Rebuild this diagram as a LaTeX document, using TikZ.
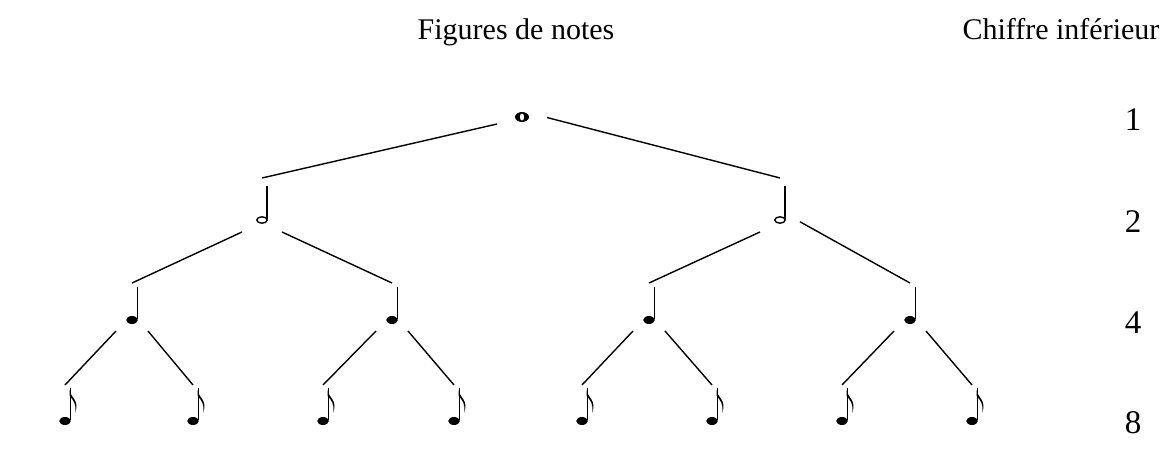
\documentclass[tikz,border=0pt]{standalone}
\usepackage{fontspec}
\setmainfont{Liberation Serif}

% note glyphs, drawn inside the note node (argument = depth of the box below the head)
\newcommand{\glyphwhole}[1]{%
  \coordinate (hd) at ([yshift=#1]path picture bounding box.south);
  \fill[even odd rule, shift={(hd)}] (0,0) ellipse [x radius=7pt, y radius=5pt]
    (0,0) ellipse [x radius=2.3pt, y radius=3.6pt];
}
\newcommand{\glyphhalf}[1]{%
  \coordinate (hd) at ([yshift=#1]path picture bounding box.south);
  \draw[line width=1.4pt, shift={(hd)}, rotate=25] (0,0) ellipse [x radius=5.2pt, y radius=3.2pt];
  \draw[line width=1.2pt] ([xshift=5pt, yshift=1pt]hd) -- ++(0,-33);
}
\newcommand{\glyphquarter}[1]{%
  \coordinate (hd) at ([yshift=#1]path picture bounding box.south);
  \fill[shift={(hd)}, rotate=25] (0,0) ellipse [x radius=5.8pt, y radius=4pt];
  \draw[line width=1.2pt] ([xshift=5.2pt, yshift=1pt]hd) -- ++(0,-32);
}
\newcommand{\glypheighth}[1]{%
  \glyphquarter{#1}%
  \fill[shift={(hd)}] (4.6,-31) .. controls (5.5,-23) and (15,-21) .. (10,-8)
    .. controls (12,-17) and (8,-21) .. (4.6,-25) -- cycle;
}

\begin{document}
\begin{tikzpicture}[x=1pt, y=-1pt,
    note/.style={inner sep=0pt, outer sep=0pt, anchor=base},
    wholenote/.style={note, minimum width=50pt, text height=6pt, text depth=7pt,
      path picture={\glyphwhole{7pt}}},
    halfnote/.style={note, minimum width=40pt, text height=42pt, text depth=12pt,
      path picture={\glyphhalf{12pt}}},
    quarternote/.style={note, minimum width=32pt, text height=37pt, text depth=11pt,
      path picture={\glyphquarter{11pt}}},
    eighthnote/.style={note, minimum width=30pt, text height=36pt, text depth=6pt,
      path picture={\glypheighth{6pt}}},
    title/.style={anchor=base, inner sep=0pt, font=\fontsize{30}{36}\selectfont},
    digit/.style={anchor=base, inner sep=0pt, font=\fontsize{33}{40}\selectfont},
    branch/.style={line width=1.4pt}
]
\useasboundingbox (0,0) rectangle (1168,460);

% headings
\node[title] (figs) at (516,40) {Figures de notes};
\node[title] (chif) at (1061,40) {Chiffre inférieur};

% whole note
\node[wholenote] (w) at (522,117) {};

% half notes
\node[halfnote] (hL) at (262,220) {};
\node[halfnote] (hR) at (780,220) {};

% quarter notes
\node[quarternote] (q1) at (132,320) {};
\node[quarternote] (q2) at (392,320) {};
\node[quarternote] (q3) at (649,320) {};
\node[quarternote] (q4) at (910,320) {};

% eighth notes
\node[eighthnote] (e1) at (65,421) {};
\node[eighthnote] (e2) at (193,421) {};
\node[eighthnote] (e3) at (323,421) {};
\node[eighthnote] (e4) at (454,421) {};
\node[eighthnote] (e5) at (582,421) {};
\node[eighthnote] (e6) at (712,421) {};
\node[eighthnote] (e7) at (842,421) {};
\node[eighthnote] (e8) at (972,421) {};

% lower figures
\node[digit] (d1) at (1133,130) {1};
\node[digit] (d2) at (1133,232) {2};
\node[digit] (d4) at (1133,333) {4};
\node[digit] (d8) at (1133,433) {8};

% branches
\draw[branch] (w.south west) -- (hL.north);
\draw[branch] (w.east) -- (hR.north);

\draw[branch] (hL.south west) -- (q1.north);
\draw[branch] (hL.south east) -- (q2.north);
\draw[branch] (hR.south west) -- (q3.north);
\draw[branch] (hR.-40) -- (q4.north);

\draw[branch] (q1.south west) -- (e1.north);
\draw[branch] (q1.south east) -- (e2.north);
\draw[branch] (q2.south west) -- (e3.north);
\draw[branch] (q2.south east) -- (e4.north);
\draw[branch] (q3.south west) -- (e5.north);
\draw[branch] (q3.south east) -- (e6.north);
\draw[branch] (q4.south west) -- (e7.north);
\draw[branch] (q4.south east) -- (e8.north);

\end{tikzpicture}
\end{document}
